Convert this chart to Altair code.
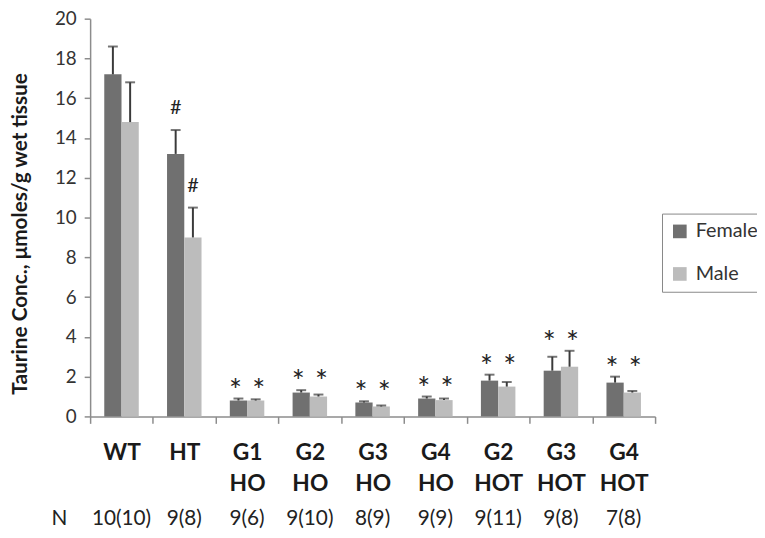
import altair as alt
import pandas as pd

categories = ["WT", "HT", "G1 HO", "G2 HO", "G3 HO", "G4 HO", "G2 HOT", "G3 HOT", "G4 HOT"]
female_mean = [17.2, 13.2, 0.8, 1.2, 0.7, 0.9, 1.8, 2.3, 1.7]
female_err = [1.4, 1.2, 0.1, 0.12, 0.06, 0.1, 0.3, 0.7, 0.3]
male_mean = [14.8, 9.0, 0.8, 1.0, 0.5, 0.82, 1.5, 2.5, 1.2]
male_err = [2.0, 1.5, 0.06, 0.1, 0.05, 0.08, 0.23, 0.8, 0.08]
female_sig = ["", "#", "*", "*", "*", "*", "*", "*", "*"]
male_sig = ["", "#", "*", "*", "*", "*", "*", "*", "*"]
n_labels = ["10(10)", "9(8)", "9(6)", "9(10)", "8(9)", "9(9)", "9(11)", "9(8)", "7(8)"]
sexes = ["Female", "Male"]
colors = ["#707070", "#bcbcbc"]

rows = []
for i, c in enumerate(categories):
    for s, m, e, g in [("Female", female_mean, female_err, female_sig),
                       ("Male", male_mean, male_err, male_sig)]:
        rows.append({"cat": c, "sex": s, "value": m[i], "top": m[i] + e[i], "sig": g[i]})
df = pd.DataFrame(rows)
grp_max = df.groupby("cat")["top"].transform("max")
df["ann"] = [gm if s == "*" else t for s, t, gm in zip(df["sig"], df["top"], grp_max)]

ndf = pd.DataFrame({"cat": categories, "n": n_labels})

FONT = "Lato"

x_enc = alt.X(
    "cat:N", sort=categories,
    scale=alt.Scale(paddingInner=0, paddingOuter=0),
    axis=alt.Axis(
        title=None, labelAngle=0, labelFont=FONT, labelFontSize=23, labelFontWeight="bold",
        labelColor="#1a1a1a",
        labelExpr="isValid(datum.value) ? split(datum.value, ' ') : ''",
        labelLineHeight=31, labelPadding=19, tickBand="extent", tickSize=7,
        tickColor="#8c8c8c", domainColor="#8c8c8c", domainWidth=1.5, tickWidth=1.5,
        labelBaseline="top",
    ),
)
xo_enc = alt.XOffset("sex:N", sort=sexes, scale=alt.Scale(paddingInner=0, paddingOuter=0.82))
y_enc = alt.Y(
    "value:Q",
    scale=alt.Scale(domain=[0, 20], nice=False),
    axis=alt.Axis(
        title="Taurine Conc., μmoles/g wet tissue", values=list(range(0, 21, 2)),
        titleFont=FONT, titleFontSize=21, titleFontWeight="bold", titleColor="#1a1a1a",
        titleX=-70, titleY=217, titleAngle=270, titleBaseline="middle", titleAlign="center",
        labelFont=FONT, labelFontSize=19, labelColor="#333333", labelPadding=8,
        tickSize=6, tickColor="#8c8c8c", domainColor="#8c8c8c", domainWidth=1.5,
        tickWidth=1.5, grid=False,
    ),
)

base = alt.Chart(df)

bars = base.mark_bar().encode(
    x=x_enc, xOffset=xo_enc, y=y_enc,
    color=alt.Color("sex:N", scale=alt.Scale(domain=sexes, range=colors),
                    legend=alt.Legend(title=None, orient="none", legendX=578, legendY=197,
                                      symbolType="square", symbolSize=190, symbolStrokeWidth=0,
                                      labelFont=FONT, labelFontSize=20, labelColor="#333333",
                                      strokeColor="#888888", padding=8, rowPadding=23,
                                      labelOffset=6)),
)

xc = alt.X("cat:N", sort=categories)
xoc = alt.XOffset("sex:N", sort=sexes)

rules = base.mark_rule(color="#3a3a3a", strokeWidth=2).encode(
    x=xc, xOffset=xoc, y="value:Q", y2="top:Q",
)
caps = base.mark_tick(color="#3a3a3a", size=10, thickness=2).encode(
    x=xc, xOffset=xoc, y="top:Q",
)
stars_f = base.transform_filter((alt.datum.sig == "*") & (alt.datum.sex == "Female")).mark_text(
    font=FONT, fontSize=31, color="#222222", baseline="alphabetic", dy=2, dx=-3,
).encode(x=xc, xOffset=xoc, y="ann:Q", text="sig:N")
stars_m = base.transform_filter((alt.datum.sig == "*") & (alt.datum.sex == "Male")).mark_text(
    font=FONT, fontSize=31, color="#222222", baseline="alphabetic", dy=2, dx=3,
).encode(x=xc, xOffset=xoc, y="ann:Q", text="sig:N")
hashes = base.transform_filter(alt.datum.sig == "#").mark_text(
    font=FONT, fontSize=20, color="#222222", baseline="alphabetic", dy=-16,
).encode(x=xc, xOffset=xoc, y="ann:Q", text="sig:N")
ntext = alt.Chart(ndf).mark_text(font=FONT, fontSize=21, color="#222222", baseline="middle").encode(
    x=xc, y=alt.value(506), text="n:N",
)
nlabel = alt.Chart(pd.DataFrame({"t": ["N"]})).mark_text(
    font=FONT, fontSize=21, color="#222222", baseline="middle").encode(
    x=alt.value(-31), y=alt.value(506), text="t:N",
)

chart = alt.layer(bars, rules, caps, stars_f, stars_m, hashes, ntext, nlabel).properties(
    width=571, height=402,
    autosize=alt.AutoSizeParams(type="none"),
    padding={"left": 83, "top": 8, "right": 103, "bottom": 112},
).configure_view(stroke=None)

chart.save("out.html", embed_options={"renderer": "svg", "actions": False})
